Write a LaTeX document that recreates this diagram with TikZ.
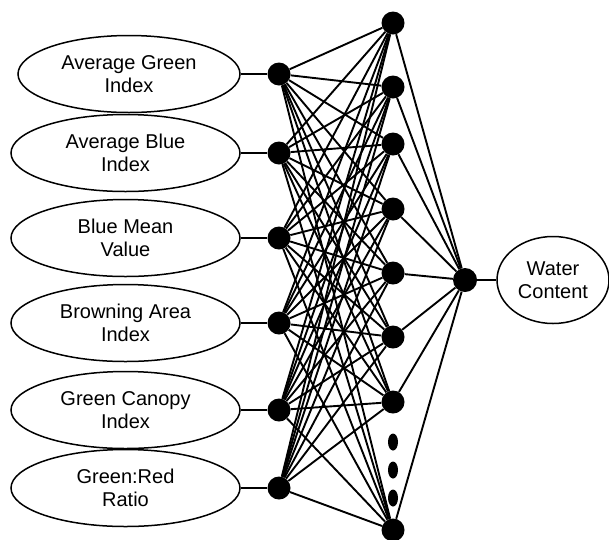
\documentclass[tikz,border=0pt]{standalone}
\usepackage{fontspec}
\setmainfont{Liberation Sans}
\usetikzlibrary{shapes.geometric}
\begin{document}
\begin{tikzpicture}[x=1pt,y=-1pt,
  inbox/.style={ellipse, draw, line width=1.5pt, inner sep=0pt, align=center,
    minimum width=229pt, minimum height=77pt,
    font=\fontsize{20}{23}\selectfont},
  neuron/.style={circle, fill=black, inner sep=0pt, minimum size=23pt},
  gapdot/.style={ellipse, fill=black, inner sep=0pt, minimum width=10pt, minimum height=17pt},
  link/.style={line width=1.9pt}]
\useasboundingbox (0,0) rectangle (609,539);

% input ellipses
\node[inbox, minimum width=222pt] (e1) at (129,74) {Average Green\\Index};
\node[inbox] (e2) at (125.5,153) {Average Blue\\Index};
\node[inbox] (e3) at (125.5,238) {Blue Mean\\Value};
\node[inbox] (e4) at (125.5,323) {Browning Area\\Index};
\node[inbox] (e5) at (125.5,410) {Green Canopy\\Index};
\node[inbox] (e6) at (125.5,488) {Green:Red\\Ratio};

% input neurons
\node[neuron] (i1) at (279,74) {};
\node[neuron] (i2) at (279,153) {};
\node[neuron] (i3) at (279,238) {};
\node[neuron] (i4) at (279,323) {};
\node[neuron] (i5) at (279,410) {};
\node[neuron] (i6) at (279,488) {};

% hidden neurons
\node[neuron] (h1) at (393,23) {};
\node[neuron] (h2) at (393,87) {};
\node[neuron] (h3) at (393,144) {};
\node[neuron] (h4) at (393,209) {};
\node[neuron] (h5) at (393,273) {};
\node[neuron] (h6) at (393,337) {};
\node[neuron] (h7) at (393,402) {};
\node[neuron] (h8) at (393,530) {};

% ellipsis dots
\node[gapdot] (g1) at (393,442) {};
\node[gapdot] (g2) at (393,470) {};
\node[gapdot] (g3) at (393,498) {};

% output
\node[neuron, minimum size=24pt] (o) at (465,280) {};
\node[inbox, minimum width=112pt, minimum height=87pt] (w) at (553,280) {Water\\Content};

% connectors
\foreach \i in {1,...,6} {
  \draw[link] (e\i) -- (i\i);
  \foreach \j in {1,...,8} {
    \draw[link] (i\i) -- (h\j);
  }
}
\foreach \j in {1,...,8} {
  \draw[link] (h\j) -- (o);
}
\draw[link] (o) -- (w);
\end{tikzpicture}
\end{document}
